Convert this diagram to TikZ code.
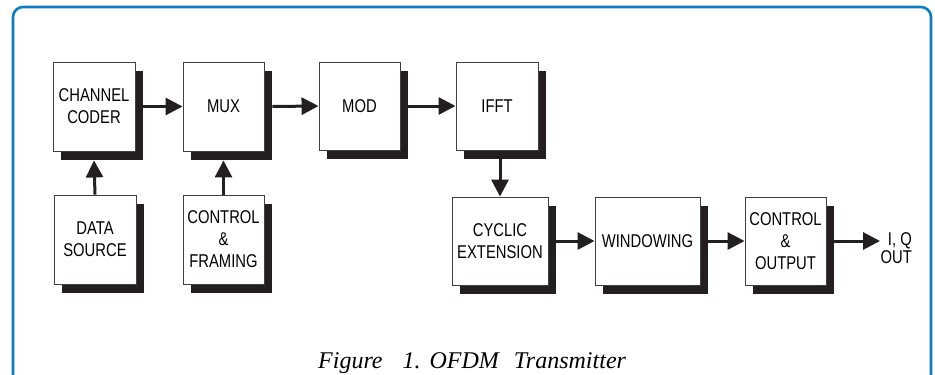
\documentclass[tikz,border=0pt]{standalone}
\usepackage{fontspec}
\newfontfamily\boxfont{Liberation Sans}[FakeStretch=0.8]
\newfontfamily\capfont{Liberation Serif}
\usetikzlibrary{arrows.meta,shadows}
\definecolor{frameblue}{RGB}{11,124,194}
\definecolor{shadowblk}{RGB}{35,31,32}
\begin{document}
\begin{tikzpicture}[x=1pt,y=-1pt,
  blk/.style={draw=black!75, line width=0.9pt, fill=white, inner sep=0pt, align=center,
    font=\boxfont\fontsize{18.5}{22}\selectfont,
    drop shadow={shadow xshift=8pt, shadow yshift=-9pt, fill=shadowblk, opacity=1}},
  conn/.style={line width=3pt, draw=shadowblk, -{Triangle[length=17pt,width=17pt]}},
  lbl/.style={inner sep=0pt, align=right, font=\boxfont\fontsize{18.5}{14}\selectfont}]
\useasboundingbox (0,0) rectangle (935,375);
% frame
\draw[frameblue, line width=2.6pt, rounded corners=10pt] (13,390) -- (13,7) -- (931,7) -- (931,390);
% blocks
\node[blk, minimum width=82pt, minimum height=89pt] (cc) at (94,106.5) {CHANNEL\\CODER};
\node[blk, minimum width=81pt, minimum height=89pt] (mux) at (223.5,106.5) {MUX};
\node[blk, minimum width=81pt, minimum height=88pt] (mod) at (359.5,106) {MOD};
\node[blk, minimum width=82pt, minimum height=88pt] (ifft) at (497,106) {IFFT};
\node[blk, minimum width=82pt, minimum height=89pt] (ds) at (95,239.5) {DATA\\SOURCE};
\node[blk, minimum width=81pt, minimum height=89pt] (cf) at (223.5,239.5) {CONTROL\\\&\\FRAMING};
\node[blk, minimum width=96pt, minimum height=88pt] (cyc) at (500,241) {CYCLIC\\EXTENSION};
\node[blk, minimum width=105pt, minimum height=88pt] (win) at (647.5,241) {WINDOWING};
\node[blk, minimum width=81pt, minimum height=88pt] (co) at (785.5,241) {CONTROL\\\&\\OUTPUT};
% connectors
\draw[conn] ([xshift=8pt]cc.east) -- (mux.west);
\draw[conn] ([xshift=8pt]mux.east) -- (mod.west);
\draw[conn] ([xshift=8pt]mod.east) -- (ifft.west);
\draw[conn] (ds.north) -- ([yshift=-9pt]cc.south);
\draw[conn] (cf.north) -- ([yshift=-9pt]mux.south);
\coordinate (ifftb) at ([yshift=-9pt]ifft.south);
\draw[conn] (ifftb -| cyc.north) -- (cyc.north);
\draw[conn] ([xshift=8pt]cyc.east) -- (win.west);
\draw[conn] ([xshift=8pt]win.east) -- (co.west);
\coordinate (out) at (880,241);
\draw[conn] ([xshift=8pt]co.east) -- (out);
\node[lbl, anchor=east] (iq) at (912,248) {I, Q\\OUT};
% caption
\node[anchor=base west, inner sep=0pt, font=\capfont\itshape\fontsize{24}{28}\selectfont] (cap) at (318,368)
  {Figure\hspace{20pt}1.\hspace{9pt}OFDM\hspace{15pt}Transmitter};
\end{tikzpicture}
\end{document}
